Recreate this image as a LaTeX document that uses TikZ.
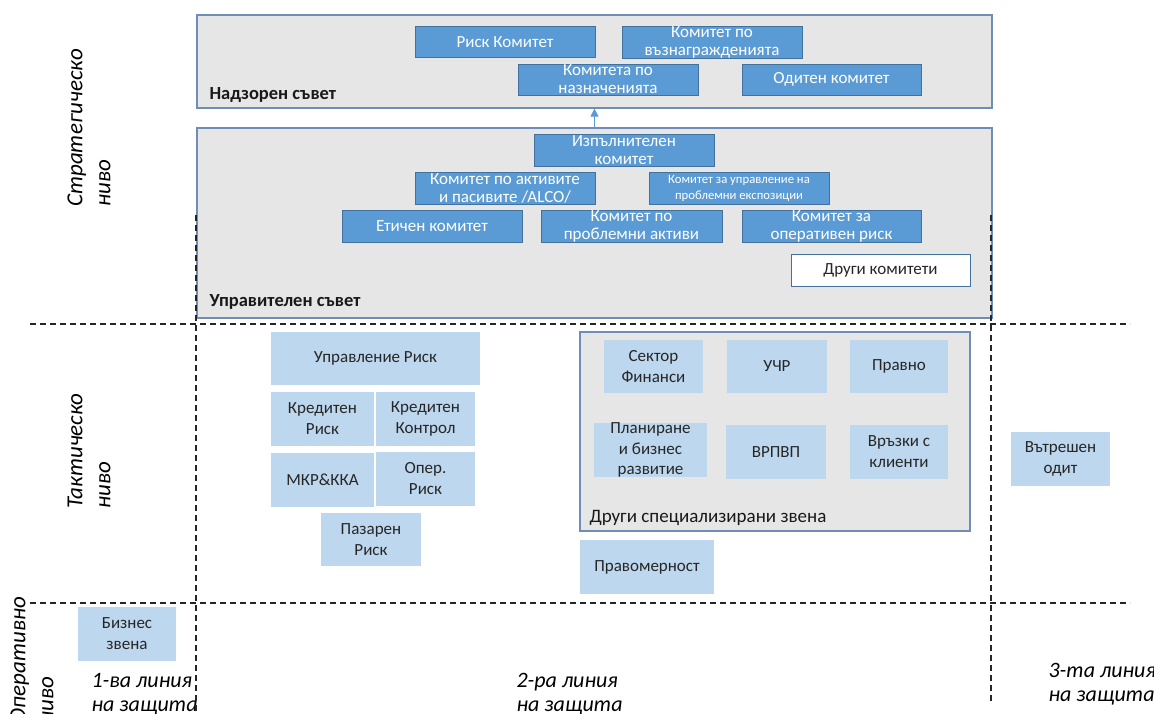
\documentclass[tikz,border=0pt]{standalone}
\usepackage{fontspec}
\setmainfont{Carlito}
\usetikzlibrary{arrows.meta}

\definecolor{cblue}{HTML}{5B9BD5}
\definecolor{cedge}{HTML}{41719C}
\definecolor{lblue}{HTML}{BDD7EE}
\definecolor{pgray}{HTML}{E6E6E6}
\definecolor{pedge}{HTML}{6F8DB6}

\begin{document}
\begin{tikzpicture}[x=1pt,y=-1pt]
    \tikzset{
    panel/.style={draw=pedge,fill=pgray,line width=1.2pt,inner sep=0pt},
    cmte/.style={draw=cedge,fill=cblue,text=white,inner sep=0pt,minimum width=180pt,minimum height=31pt,align=center,font=\fontsize{17}{18}\selectfont},
    unitbox/.style={fill=lblue,inner sep=0pt,minimum width=100pt,minimum height=54pt,align=center,text=black!85,font=\fontsize{17}{21}\selectfont},
    lvl/.style={rotate=90,align=left,font=\itshape\fontsize{23}{28}\selectfont},
    lin/.style={anchor=base west,align=left,font=\itshape\fontsize{22}{24}\selectfont},
    ttl/.style={anchor=base west,text=black!90,font=\bfseries\fontsize{18.5}{20}\selectfont},
    c1/.style={-{Triangle[length=8pt,width=8pt]},cblue,line width=1pt},
    c2/.style={dash pattern=on 6pt off 4pt,line width=1.3pt,black!85},
    }
    \useasboundingbox (0,0) rectangle (1154,713);

    % strategic level
    \node[panel,minimum width=795pt,minimum height=93pt] (sb) at (594.5,61.5) {};
    \node[panel,minimum width=795pt,minimum height=190pt] (mb) at (594.5,223) {};
    \node[ttl] (sbl) at (206,99) {Надзорен съвет};
    \node[ttl] (mbl) at (206,306) {Управителен съвет};

    \node[cmte] (rk) at (505,42) {Риск Комитет};
    \node[cmte] (rem) at (712,42) {Комитет по\\възнагражденията};
    \node[cmte] (nom) at (608,79.5) {Комитета по\\назначенията};
    \node[cmte,minimum width=179pt] (aud) at (831.5,79.5) {Одитен комитет};

    \node[cmte,minimum height=32pt] (exe) at (624,150) {Изпълнителен\\комитет};
    \node[cmte,minimum height=32pt] (alco) at (505,188) {Комитет по активите\\и пасивите /ALCO/};
    \node[cmte,minimum height=32pt,font=\fontsize{12.7}{16}\selectfont] (pex) at (739,188) {Комитет за управление на\\проблемни експозиции};
    \node[cmte,minimum height=32pt] (eth) at (432,226) {Етичен комитет};
    \node[cmte,minimum height=32pt,minimum width=181pt] (pas) at (631.5,226) {Комитет по\\проблемни активи};
    \node[cmte,minimum height=32pt,minimum width=179pt] (opc) at (831.5,226) {Комитет за\\оперативен риск};
    \node[cmte,minimum height=32pt,minimum width=179pt,fill=white,text=black!85] (oth) at (880.5,270) {Други комитети};

    \draw[c1] (mb) edge (sb);

    % tactical level
    \node[unitbox,minimum width=209pt,minimum height=53pt] (rm) at (375.5,358.5) {Управление Риск};
    \node[unitbox,minimum width=103pt] (cr) at (322.5,419) {Кредитен\\Риск};
    \node[unitbox,minimum width=99pt] (cc) at (425.5,419) {Кредитен\\Контрол};
    \node[unitbox,minimum width=103pt] (mkr) at (322.5,480) {МКР\&ККА};
    \node[unitbox,minimum width=99pt] (opr) at (425.5,479) {Опер.\\Риск};
    \node[unitbox,minimum height=53pt] (mr) at (371,539.5) {Пазарен\\Риск};

    \node[panel,minimum width=390pt,minimum height=199pt] (sp) at (775,431.5) {};
    \node[anchor=base west,text=black!90,font=\fontsize{19}{21}\selectfont] (spl) at (586,522) {Други специализирани звена};
    \node[unitbox,minimum width=99pt,minimum height=53pt] (fin) at (653.5,366.5) {Сектор\\Финанси};
    \node[unitbox,minimum height=53pt] (hr) at (777,366.5) {УЧР};
    \node[unitbox,minimum width=98pt,minimum height=53pt] (leg) at (899,366.5) {Правно};
    \node[unitbox,minimum width=113pt,font=\fontsize{17}{20.5}\selectfont] (pln) at (650.5,450) {Планиране\\и бизнес\\развитие};
    \node[unitbox] (vr) at (776,452) {ВРПВП};
    \node[unitbox,minimum width=98pt] (cl) at (899,452) {Връзки с\\клиенти};
    \node[unitbox,minimum width=134pt] (cmp) at (647,567) {Правомерност};
    \node[unitbox,minimum width=99pt] (ia) at (1060.5,459) {Вътрешен\\одит};

    % operational level
    \node[unitbox,minimum width=98pt] (bu) at (127,634) {Бизнес\\звена};

    % level and line labels
    \node[lvl] (lv1) at (89,128) {Стратегическо\\ниво};
    \node[lvl] (lv2) at (89,451) {Тактическо\\ниво};
    \node[lvl] (lv3) at (32,660) {Оперативно\\ниво};
    \node[lin] (d1) at (88,711) {1-ва линия\\на защита};
    \node[lin] (d2) at (513,711) {2-ра линия\\на защита};
    \node[lin] (d3) at (1045,701) {3-та линия\\на защита};

    \draw[c2] (30,324) -- (1130,324);
    \draw[c2] (30,603) -- (1130,603);
    \draw[c2] (196,215) -- (196,713);
    \draw[c2] (991,215) -- (991,702);

\end{tikzpicture}
\end{document}
